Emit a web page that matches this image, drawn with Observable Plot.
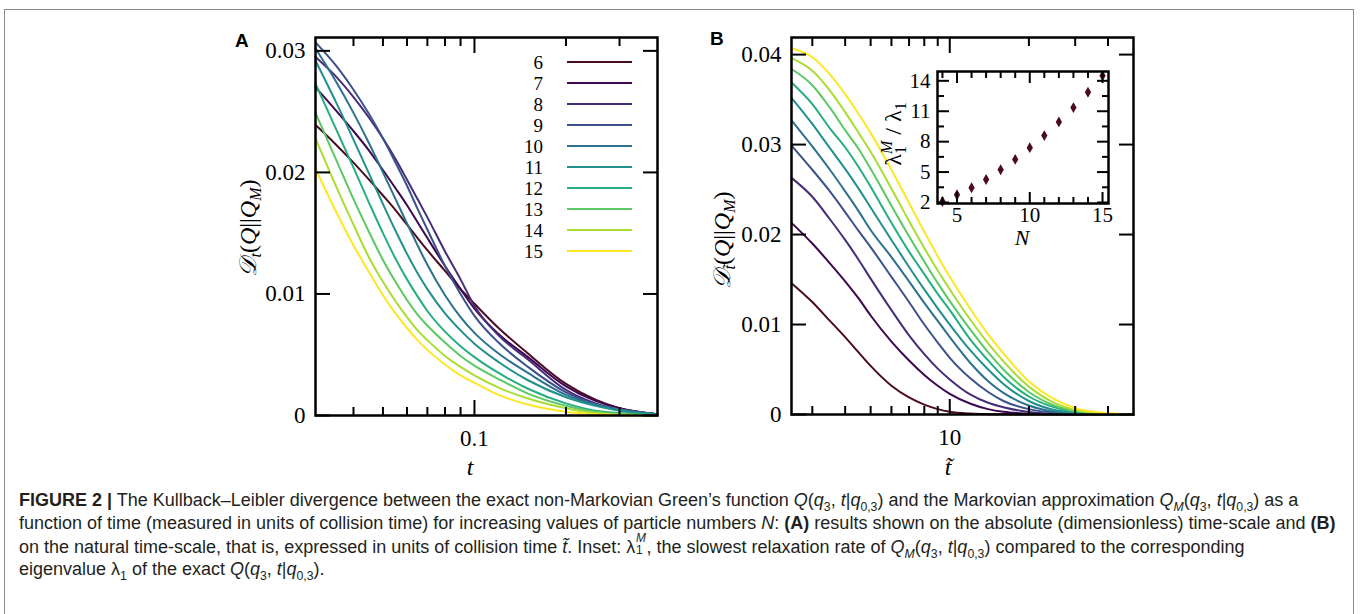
<!DOCTYPE html>
<html><head><meta charset="utf-8">
<script src="https://cdn.jsdelivr.net/npm/d3@7"></script>
<script src="https://cdn.jsdelivr.net/npm/@observablehq/plot@0.6"></script>
<style>
body{margin:0;background:#fff;width:1360px;height:614px;overflow:hidden;position:relative;font-family:"Liberation Sans",Arial,sans-serif}
#border{position:absolute;left:4px;top:9px;width:1350px;height:640px;border:1.5px solid #8c8c8c;border-bottom:none;box-sizing:border-box}
#pa{position:absolute;left:0;top:0;width:680px;height:480px}
#pb{position:absolute;left:680px;top:0;width:680px;height:480px}
#pi{position:absolute;left:860px;top:50px;width:260px;height:210px}
#caption{position:absolute;left:19px;top:489px;font-size:18px;line-height:22.8px;color:#231f20;white-space:nowrap}
#caption sub,#caption sup{font-size:0.68em;line-height:0}
.ss{display:inline-block;position:relative;width:0.62em;height:1em}
.ss .up{position:absolute;left:0.05em;top:-0.12em;font-size:0.66em;line-height:1}
.ss .dn{position:absolute;left:0.05em;bottom:-0.32em;font-size:0.66em;line-height:1}
</style></head>
<body>
<div id="border"></div>
<div id="pa"></div>
<div id="pb"></div>
<div id="pi"></div>
<div id="caption">
<div><b>FIGURE 2 |</b> The Kullback–Leibler divergence between the exact non-Markovian Green’s function <i>Q</i>(<i>q</i><sub>3</sub>, <i>t</i>|<i>q</i><sub>0,3</sub>) and the Markovian approximation <i>Q</i><sub><i>M</i></sub>(<i>q</i><sub>3</sub>, <i>t</i>|<i>q</i><sub>0,3</sub>) as a</div>
<div>function of time (measured in units of collision time) for increasing values of particle numbers <i>N</i>: <b>(A)</b> results shown on the absolute (dimensionless) time-scale and <b>(B)</b></div>
<div>on the natural time-scale, that is, expressed in units of collision time <i>t̃</i>. Inset: λ<span class="ss"><i class="up">M</i><span class="dn">1</span></span>, the slowest relaxation rate of <i>Q</i><sub><i>M</i></sub>(<i>q</i><sub>3</sub>, <i>t</i>|<i>q</i><sub>0,3</sub>) compared to the corresponding</div>
<div>eigenvalue λ<sub>1</sub> of the exact <i>Q</i>(<i>q</i><sub>3</sub>, <i>t</i>|<i>q</i><sub>0,3</sub>).</div>
</div>
<script>
// ---------- data ----------
const Ns = [6, 7, 8, 9, 10, 11, 12, 13, 14, 15];
const palette = ["#4b0c22", "#3e0751", "#472c7a", "#3b518b", "#2c718e", "#21908d", "#27ad81", "#5cc863", "#aadc32", "#fde725"];

// Panel A: absolute time t
const tA = [0.03, 0.035, 0.04, 0.045, 0.05, 0.055, 0.06, 0.065, 0.07, 0.08, 0.09, 0.1, 0.12, 0.15, 0.2, 0.25, 0.3, 0.4];
const a6  = [0.0239, 0.0223, 0.0208, 0.0194, 0.0181, 0.0169, 0.0157, 0.0146, 0.0136, 0.0119, 0.0104, 0.0092, 0.0072, 0.0051, 0.0026, 0.0013, 0.0006, 0.0001];
const a7  = [0.0270, 0.0251, 0.0234, 0.0218, 0.0202, 0.0187, 0.0173, 0.0159, 0.0146, 0.0123, 0.0104, 0.0088, 0.0067, 0.0048, 0.0024, 0.0012, 0.0006, 0.0001];
const a8  = [0.0295, 0.0279, 0.0262, 0.0245, 0.0228, 0.0211, 0.0194, 0.0178, 0.0163, 0.0135, 0.0112, 0.0090, 0.0066, 0.0046, 0.0021, 0.0010, 0.0005, 0.0001];
const a9  = [0.0307, 0.0288, 0.0268, 0.0248, 0.0228, 0.0208, 0.0189, 0.0170, 0.0153, 0.0123, 0.0100, 0.0082, 0.0060, 0.0040, 0.0019, 0.0009, 0.0005, 0.0001];
const a10 = [0.0302, 0.0275, 0.0249, 0.0224, 0.0200, 0.0178, 0.0158, 0.0140, 0.0124, 0.0099, 0.0081, 0.0068, 0.0051, 0.0035, 0.0017, 0.0009, 0.0005, 0.0001];
const a11 = [0.0292, 0.0258, 0.0227, 0.0199, 0.0174, 0.0152, 0.0133, 0.0117, 0.0104, 0.0084, 0.0070, 0.0059, 0.0044, 0.0029, 0.0015, 0.0008, 0.0004, 0.0001];
const a12 = [0.0273, 0.0236, 0.0204, 0.0175, 0.0150, 0.0129, 0.0112, 0.0098, 0.0086, 0.0069, 0.0057, 0.0048, 0.0035, 0.0022, 0.0010, 0.0004, 0.0002, 0.00003];
const a13 = [0.0249, 0.0211, 0.0178, 0.0151, 0.0128, 0.0110, 0.0095, 0.0083, 0.0074, 0.0060, 0.0049, 0.0041, 0.0030, 0.0018, 0.0008, 0.0003, 0.00012, 0.00002];
const a14 = [0.0228, 0.0189, 0.0157, 0.0130, 0.0110, 0.0094, 0.0081, 0.0070, 0.0062, 0.0049, 0.0040, 0.0033, 0.0023, 0.0014, 0.0006, 0.0002, 0.00008, 0.00001];
const a15 = [0.0203, 0.0168, 0.0140, 0.0118, 0.0099, 0.0084, 0.0072, 0.0062, 0.0054, 0.0042, 0.0033, 0.0027, 0.0017, 0.0009, 0.0003, 0.0001, 0.00004, 0];

// Panel B: natural time t~
const tB = [2.5, 3, 3.5, 4, 4.5, 5, 6, 7, 8, 9, 10, 12, 14, 16, 20, 25, 30, 40, 50];
const b6  = [0.0146, 0.0125, 0.0104, 0.0086, 0.0069, 0.0054, 0.0032, 0.0019, 0.0011, 0.0006, 0.0003, 0.0001, 0.00004, 0.00002, 0, 0, 0, 0, 0];
const b7  = [0.0213, 0.0190, 0.0168, 0.0148, 0.0129, 0.0110, 0.0081, 0.0060, 0.0044, 0.0032, 0.0023, 0.0012, 0.0006, 0.0003, 0.0001, 0.00002, 0, 0, 0];
const b8  = [0.0263, 0.0242, 0.0217, 0.0194, 0.0172, 0.0151, 0.0116, 0.0088, 0.0067, 0.0051, 0.0039, 0.0022, 0.0013, 0.0008, 0.00028, 0.00008, 0.00003, 0, 0];
const b9  = [0.0299, 0.0272, 0.0248, 0.0225, 0.0204, 0.0186, 0.0153, 0.0125, 0.0100, 0.0080, 0.0063, 0.0040, 0.0025, 0.0015, 0.0006, 0.0002, 0.00007, 0.00001, 0];
const b10 = [0.0327, 0.0298, 0.0272, 0.0248, 0.0226, 0.0205, 0.0175, 0.0148, 0.0124, 0.0104, 0.0086, 0.0057, 0.0037, 0.0024, 0.0010, 0.0003, 0.0001, 0.00002, 0];
const b11 = [0.0352, 0.0323, 0.0296, 0.0273, 0.0251, 0.0230, 0.0194, 0.0164, 0.0139, 0.0118, 0.0100, 0.0071, 0.0050, 0.0034, 0.0015, 0.0005, 0.00018, 0.00003, 0];
const b12 = [0.0369, 0.0345, 0.0318, 0.0297, 0.0275, 0.0253, 0.0213, 0.0181, 0.0156, 0.0134, 0.0116, 0.0083, 0.0060, 0.0042, 0.0020, 0.0008, 0.0003, 0.00004, 0];
const b13 = [0.0384, 0.0366, 0.0341, 0.0316, 0.0295, 0.0273, 0.0232, 0.0198, 0.0170, 0.0146, 0.0126, 0.0094, 0.0069, 0.0050, 0.0025, 0.0010, 0.0004, 0.00006, 0.00001];
const b14 = [0.0396, 0.0382, 0.0360, 0.0336, 0.0313, 0.0292, 0.0251, 0.0215, 0.0185, 0.0160, 0.0139, 0.0105, 0.0079, 0.0059, 0.0031, 0.0013, 0.0005, 0.0001, 0.00002];
const b15 = [0.0407, 0.0397, 0.0378, 0.0356, 0.0334, 0.0313, 0.0272, 0.0235, 0.0203, 0.0176, 0.0153, 0.0117, 0.0089, 0.0068, 0.0037, 0.0017, 0.0007, 0.00015, 0.00003];

// Inset: ratio of relaxation rates
const insetN = [4, 5, 6, 7, 8, 9, 10, 11, 12, 13, 14, 15];
const insetRatio = [2.1, 2.76, 3.45, 4.27, 5.23, 6.25, 7.41, 8.6, 9.95, 11.36, 12.88, 14.5];

// tick values
const yTicksA = [0, 0.01, 0.02, 0.03];
const xMajorA = [0.1];
const xMinorA = [0.04, 0.05, 0.06, 0.07, 0.08, 0.09, 0.2, 0.3];
const yTicksB = [0, 0.01, 0.02, 0.03, 0.04];
const xMajorB = [10];
const xMinorB = [3, 4, 5, 6, 7, 8, 9, 20, 30, 40];
const yMajorI = [2, 5, 8, 11, 14];
const yMinorI = [3.5, 6.5, 9.5, 12.5];
const xMajorI = [5, 10, 15];
const xMinorI = [4, 6, 7, 8, 9, 11, 12, 13, 14];

// ---------- build ----------
const seriesA = [a6, a7, a8, a9, a10, a11, a12, a13, a14, a15];
const seriesB = [b6, b7, b8, b9, b10, b11, b12, b13, b14, b15];
const rowsA = Ns.flatMap((n, i) => tA.map((t, j) => ({N: n, t, v: seriesA[i][j]})));
const rowsB = Ns.flatMap((n, i) => tB.map((t, j) => ({N: n, t, v: seriesB[i][j]})));
const rowsI = insetN.map((n, i) => ({N: n, r: insetRatio[i]}));

const serif = "'Liberation Serif','DejaVu Serif',serif";
const yfmt = d => d === 0 ? "0" : d.toFixed(2);

function frameAxes(xMaj, xMin, yTicks, xfmt, major, minor) {
  return [
    Plot.frame({stroke: "black", strokeWidth: 2.5}),
    Plot.axisX(xMaj, {anchor: "bottom", tickSize: -major, strokeWidth: 2, fill: "none", label: null}),
    Plot.axisX(xMaj, {anchor: "top", tickSize: -major, strokeWidth: 2, fill: "none", label: null}),
    Plot.axisX(xMin, {anchor: "bottom", tickSize: -minor, strokeWidth: 2, fill: "none", label: null}),
    Plot.axisX(xMin, {anchor: "top", tickSize: -minor, strokeWidth: 2, fill: "none", label: null}),
    Plot.axisY(yTicks, {anchor: "left", tickSize: -major, strokeWidth: 2, fill: "none", label: null}),
    Plot.axisY(yTicks, {anchor: "right", tickSize: -major, strokeWidth: 2, fill: "none", label: null}),
    Plot.axisX(xMaj, {anchor: "bottom", tickSize: 0, tickPadding: 14, tickFormat: xfmt, label: null}),
    Plot.axisY(yTicks, {anchor: "left", tickSize: 0, tickPadding: 10, tickFormat: yfmt, label: null})
  ];
}

const plotA = Plot.plot({
  width: 680, height: 480, marginLeft: 315, marginRight: 23, marginTop: 37, marginBottom: 65,
  style: {fontFamily: serif, fontSize: "23px", color: "black", background: "transparent", overflow: "visible"},
  x: {type: "log", domain: [0.03, 0.4]},
  y: {domain: [0, 0.0311]},
  color: {domain: Ns, range: palette},
  marks: [
    Plot.line(rowsA, {x: "t", y: "v", z: "N", stroke: "N", strokeWidth: 2, curve: "monotone-x"}),
    ...frameAxes(xMajorA, xMinorA, yTicksA, d => String(d), 15, 8)
  ]
});
document.getElementById("pa").appendChild(plotA);

const plotB = Plot.plot({
  width: 680, height: 480, marginLeft: 111, marginRight: 227, marginTop: 37, marginBottom: 66,
  style: {fontFamily: serif, fontSize: "23px", color: "black", background: "transparent", overflow: "visible"},
  x: {type: "log", domain: [2.5, 50]},
  y: {domain: [0, 0.0419]},
  color: {domain: Ns, range: palette},
  marks: [
    Plot.line(rowsB, {x: "t", y: "v", z: "N", stroke: "N", strokeWidth: 2, curve: "monotone-x"}),
    ...frameAxes(xMajorB, xMinorB, yTicksB, d => String(d), 15, 8)
  ]
});
document.getElementById("pb").appendChild(plotB);

const plotI = Plot.plot({
  width: 260, height: 210, marginLeft: 77, marginRight: 12, marginTop: 21, marginBottom: 57,
  style: {fontFamily: serif, fontSize: "21px", color: "black", background: "transparent", overflow: "visible"},
  x: {domain: [3.66, 15.41]},
  y: {domain: [1.9, 14.92]},
  marks: [
    Plot.dot(rowsI, {x: "N", y: "r", fill: "#4b0c22", symbol: "diamond", r: 3.3}),
    Plot.frame({stroke: "black", strokeWidth: 2.5}),
    Plot.axisX(xMajorI, {anchor: "bottom", tickSize: -11, strokeWidth: 2, fill: "none", label: null}),
    Plot.axisX(xMajorI, {anchor: "top", tickSize: -11, strokeWidth: 2, fill: "none", label: null}),
    Plot.axisX(xMinorI, {anchor: "bottom", tickSize: -6, strokeWidth: 2, fill: "none", label: null}),
    Plot.axisX(xMinorI, {anchor: "top", tickSize: -6, strokeWidth: 2, fill: "none", label: null}),
    Plot.axisY(yMajorI, {anchor: "left", tickSize: -12, strokeWidth: 2, fill: "none", label: null}),
    Plot.axisY(yMajorI, {anchor: "right", tickSize: -12, strokeWidth: 2, fill: "none", label: null}),
    Plot.axisY(yMinorI, {anchor: "left", tickSize: -7, strokeWidth: 2, fill: "none", label: null}),
    Plot.axisY(yMinorI, {anchor: "right", tickSize: -7, strokeWidth: 2, fill: "none", label: null}),
    Plot.axisX(xMajorI, {anchor: "bottom", tickSize: 0, tickPadding: 4, label: null}),
    Plot.axisY(yMajorI, {anchor: "left", tickSize: 0, tickPadding: 7, label: null})
  ]
});
document.getElementById("pi").appendChild(plotI);

// ---------- annotations (labels, legend) ----------
function txt(svg, x, y, s, opts = {}) {
  return svg.append("text").attr("x", x).attr("y", y).attr("font-family", opts.family || serif)
    .attr("font-size", opts.size || 24).attr("font-style", opts.italic ? "italic" : null)
    .attr("font-weight", opts.bold ? "bold" : null).attr("text-anchor", opts.anchor || "middle")
    .attr("dy", opts.dy == null ? "0.35em" : opts.dy).attr("fill", "black").text(s);
}
function ylabel(svg, x, y, sub) {
  const t = svg.append("text").attr("transform", `translate(${x},${y}) rotate(-90)`)
    .attr("text-anchor", "middle").attr("font-family", serif).attr("font-size", 24).attr("dy", "0.35em").attr("fill", "black");
  t.append("tspan").attr("font-style", "italic").text("𝒟");
  t.append("tspan").attr("font-size", 16).attr("dy", 5).attr("font-style", "italic").text(sub);
  t.append("tspan").attr("dy", -5).text("(");
  t.append("tspan").attr("font-style", "italic").text("Q");
  t.append("tspan").text("||");
  t.append("tspan").attr("font-style", "italic").text("Q");
  t.append("tspan").attr("font-size", 16).attr("dy", 5).attr("font-style", "italic").text("M");
  t.append("tspan").attr("dy", -5).text(")");
}
const sA = d3.select(plotA), sB = d3.select(plotB), sI = d3.select(plotI);
const sans = "'Liberation Sans',Arial,sans-serif";
txt(sA, 235, 47, "A", {family: sans, size: 19, bold: true, anchor: "start", dy: 0});
txt(sB, 30, 45, "B", {family: sans, size: 19, bold: true, anchor: "start", dy: 0});
txt(sA, 470, 467, "t", {italic: true});
txt(sB, 268, 467, "t̃", {italic: true});
ylabel(sA, 248, 228, "t");
ylabel(sB, 42, 240, "t̃");

// legend
Ns.forEach((n, i) => {
  const y = 62 + 21 * i;
  txt(sA, 543, y, String(n), {anchor: "end", size: 19});
  sA.append("line").attr("x1", 567).attr("x2", 632).attr("y1", y).attr("y2", y)
    .attr("stroke", palette[i]).attr("stroke-width", 2.2);
});

// inset labels
txt(sI, 162, 187, "N", {italic: true, size: 22});
{
  const t = sI.append("text").attr("transform", "translate(33,84) rotate(-90)")
    .attr("text-anchor", "middle").attr("font-family", serif).attr("font-size", 24).attr("dy", "0.35em").attr("fill", "black");
  t.append("tspan").text("λ");
  t.append("tspan").attr("font-size", 16).attr("dy", 5).text("1");
  t.append("tspan").attr("font-size", 16).attr("font-style", "italic").attr("dx", -8).attr("dy", -14).text("M");
  t.append("tspan").attr("dy", 9).text(" / λ");
  t.append("tspan").attr("font-size", 16).attr("dy", 5).text("1");
}
</script>
</body></html>
